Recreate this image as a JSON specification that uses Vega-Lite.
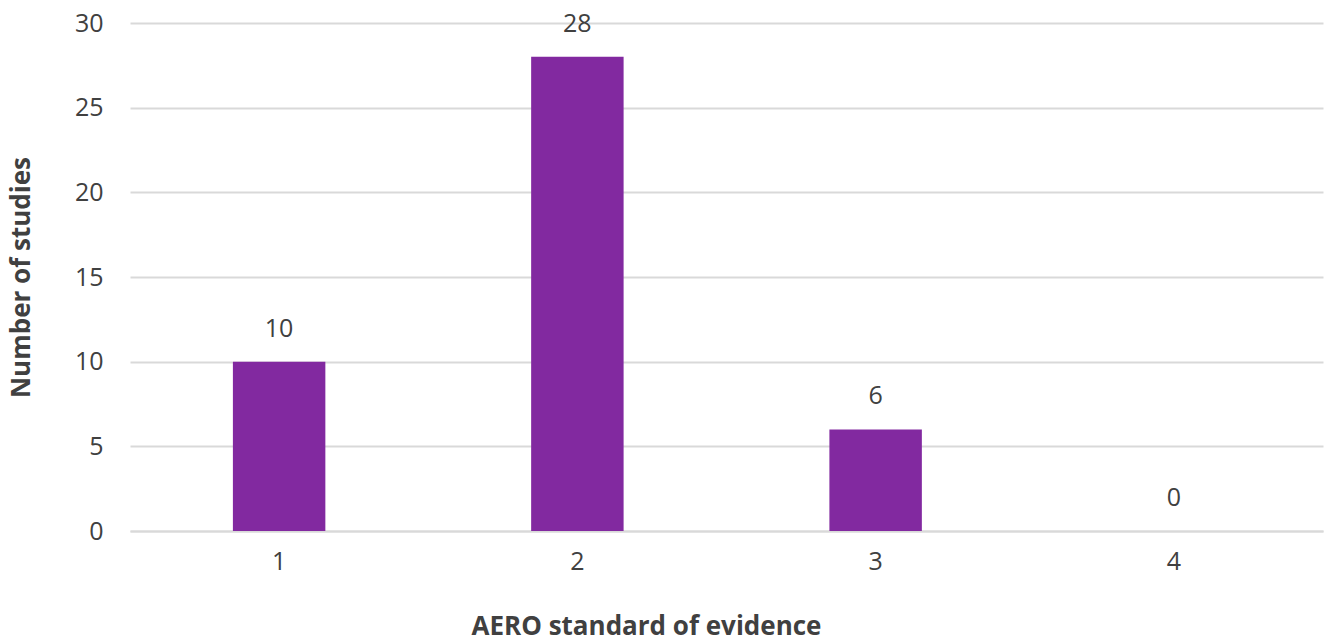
{
  "$schema": "https://vega.github.io/schema/vega-lite/v6.json",
  "autosize": {"type": "none"},
  "padding": {"left": 130, "top": 23, "right": 3, "bottom": 110},
  "width": 1193,
  "height": 508,
  "background": "white",
  "config": {"view": {"stroke": null}, "font": "Open Sans"},
  "data": {"values": [
    {"standard": "1", "studies": 10},
    {"standard": "2", "studies": 28},
    {"standard": "3", "studies": 6},
    {"standard": "4", "studies": 0}
  ]},
  "encoding": {
    "x": {"field": "standard", "type": "nominal", "sort": null,
      "scale": {"paddingInner": 0.69, "paddingOuter": 0.345},
      "axis": {"title": "AERO standard of evidence", "labelAngle": 0, "labelFontSize": 25, "labelColor": "#404040",
        "labelPadding": 18, "ticks": false, "domainColor": "#d9d9d9", "domainWidth": 2,
        "titleFontSize": 26, "titleFontWeight": "bold", "titleColor": "#404040", "titlePadding": 39,
        "titleX": 516, "titleAlign": "center", "labelFontWeight": "normal"}},
    "y": {"field": "studies", "type": "quantitative",
      "scale": {"domain": [0, 30]},
      "axis": {"title": "Number of studies", "values": [0,5,10,15,20,25,30], "labelFontSize": 25, "labelColor": "#404040",
        "labelPadding": 27, "ticks": false, "domain": false, "gridColor": "#d9d9d9", "gridWidth": 2,
        "titleFontSize": 26, "titleFontWeight": "bold", "titleColor": "#404040", "titlePadding": 40}}
  },
  "layer": [
    {"mark": {"type": "bar", "color": "#8229A0"}},
    {"mark": {"type": "text", "dy": -33, "fontSize": 25, "color": "#404040", "baseline": "middle"},
     "encoding": {"text": {"field": "studies", "type": "quantitative"}}}
  ]
}
